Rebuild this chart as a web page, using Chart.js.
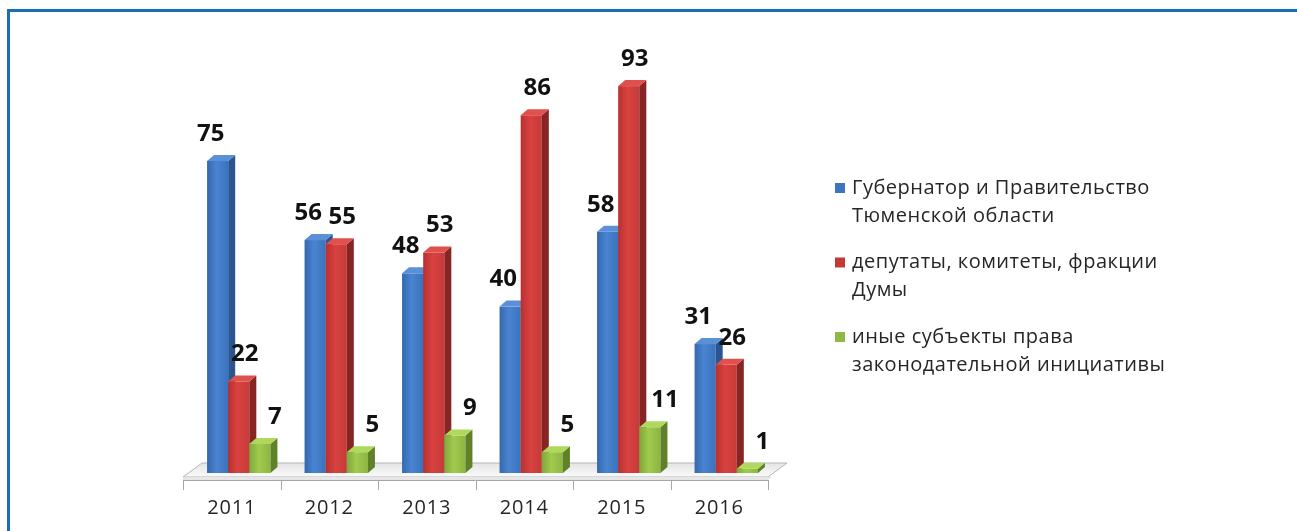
<!DOCTYPE html>
<html>
<head>
<meta charset="utf-8">
<script src="https://cdn.jsdelivr.net/npm/chart.js@4.4.1/dist/chart.umd.min.js"></script>
<style>
  html, body { margin: 0; padding: 0; background: #fff; overflow: hidden; }
  #wrap { position: relative; width: 1297px; height: 531px; }
  #frame {
    position: absolute; left: 7px; top: 9px; right: -10px; bottom: -10px;
    border: 3px solid #1b6fae; pointer-events: none;
  }
</style>
</head>
<body>
<div id="wrap">
  <canvas id="chart"></canvas>
  <div id="frame"></div>
</div>
<script>
// Data
const categories = ['2011', '2012', '2013', '2014', '2015', '2016'];
const governor = [75, 56, 48, 40, 58, 31];
const deputies = [22, 55, 53, 86, 93, 26];
const others = [7, 5, 9, 5, 11, 1];
const seriesNames = [
  ['Губернатор и Правительство', 'Тюменской области'],
  ['депутаты, комитеты, фракции', 'Думы'],
  ['иные субъекты права', 'законодательной инициативы']
];

const FONT = "'Open Sans', 'DejaVu Sans', sans-serif";

// face colours for each series: front gradient, side, top, legend swatch
const palette = [
  { front: ['#3468b0', '#4a84d0', '#3a72bd'], side: '#2a5590', top: '#5c90d6', key: '#3c74bd' },
  { front: ['#b8302e', '#d84240', '#c63a37'], side: '#862523', top: '#e0504c', key: '#c23a36' },
  { front: ['#7fa83a', '#a0cb4e', '#8cb542'], side: '#5f8228', top: '#b0d85c', key: '#8fba45' }
];

const BAR_DEPTH = { dx: 7, dy: 6 };   // how far each bar goes "into" the picture
const BAR_SHIFT = { dx: 7, dy: 7 };   // bars stand in the middle of the floor
const FLOOR = { dx: 19, dy: 14, lip: 3 };
const LABEL_NUDGE = [-7, 6, 15];      // label offset per series
const LABEL_RISE = 27;

/** Floor under the bars */
const floorPlugin = {
  id: 'floor3d',
  beforeDatasetsDraw(chart) {
    const { ctx, chartArea: a } = chart;
    const fy = a.bottom - FLOOR.lip;
    ctx.save();
    // top of the floor
    const g = ctx.createLinearGradient(0, fy - FLOOR.dy, 0, fy);
    g.addColorStop(0, '#e4e4e4');
    g.addColorStop(1, '#fbfbfb');
    ctx.fillStyle = g;
    ctx.beginPath();
    ctx.moveTo(a.left, fy);
    ctx.lineTo(a.right, fy);
    ctx.lineTo(a.right + FLOOR.dx, fy - FLOOR.dy);
    ctx.lineTo(a.left + FLOOR.dx, fy - FLOOR.dy);
    ctx.closePath();
    ctx.fill();
    ctx.strokeStyle = '#b5b5b5';
    ctx.lineWidth = 1;
    ctx.stroke();
    // front lip
    ctx.fillStyle = '#e6e6e6';
    ctx.beginPath();
    ctx.moveTo(a.left, fy);
    ctx.lineTo(a.right, fy);
    ctx.lineTo(a.right + FLOOR.dx * FLOOR.lip / FLOOR.dy, fy);
    ctx.lineTo(a.right, a.bottom);
    ctx.lineTo(a.left, a.bottom);
    ctx.closePath();
    ctx.fill();
    ctx.restore();
  }
};

/** Draw each bar as a box, category by category so neighbours overlap right */
const barsPlugin = {
  id: 'bars3d',
  afterDatasetsDraw(chart) {
    const { ctx } = chart;
    const metas = chart.data.datasets.map((_, i) => chart.getDatasetMeta(i));
    ctx.save();
    for (let c = 0; c < categories.length; c++) {
      metas.forEach((meta, s) => {
        const bar = meta.data[c];
        const p = bar.getProps(['x', 'y', 'base', 'width'], true);
        const x0 = p.x - p.width / 2 + BAR_SHIFT.dx;
        const x1 = x0 + p.width;
        const top = p.y - BAR_SHIFT.dy;
        const base = p.base - BAR_SHIFT.dy;
        const col = palette[s];
        const { dx, dy } = BAR_DEPTH;

        // front
        const g = ctx.createLinearGradient(x0, 0, x1, 0);
        g.addColorStop(0, col.front[0]);
        g.addColorStop(0.45, col.front[1]);
        g.addColorStop(1, col.front[2]);
        ctx.fillStyle = g;
        ctx.fillRect(x0, top, x1 - x0, base - top);

        // side
        ctx.fillStyle = col.side;
        ctx.beginPath();
        ctx.moveTo(x1, top);
        ctx.lineTo(x1 + dx, top - dy);
        ctx.lineTo(x1 + dx, base - dy);
        ctx.lineTo(x1, base);
        ctx.closePath();
        ctx.fill();

        // top
        ctx.fillStyle = col.top;
        ctx.beginPath();
        ctx.moveTo(x0, top);
        ctx.lineTo(x1, top);
        ctx.lineTo(x1 + dx, top - dy);
        ctx.lineTo(x0 + dx, top - dy);
        ctx.closePath();
        ctx.fill();
      });
    }

    // value labels
    ctx.font = 'bold 24px ' + FONT;
    ctx.fillStyle = '#111';
    ctx.textAlign = 'center';
    ctx.textBaseline = 'middle';
    metas.forEach((meta, s) => {
      meta.data.forEach((bar, c) => {
        const p = bar.getProps(['x', 'y'], true);
        const v = chart.data.datasets[s].data[c];
        ctx.fillText(String(v), p.x + BAR_SHIFT.dx + LABEL_NUDGE[s], p.y - BAR_SHIFT.dy - LABEL_RISE);
      });
    });
    ctx.restore();
  }
};

/** Category axis and legend */
const axisLegendPlugin = {
  id: 'axisLegend',
  afterDraw(chart) {
    const { ctx, chartArea: a } = chart;
    const xs = chart.scales.x;
    const step = xs.getPixelForValue(1) - xs.getPixelForValue(0);
    ctx.save();
    ctx.strokeStyle = '#a6a6a6';
    ctx.lineWidth = 1;
    ctx.beginPath();
    ctx.moveTo(a.left, a.bottom + 0.5);
    ctx.lineTo(a.right, a.bottom + 0.5);
    for (let i = 0; i <= categories.length; i++) {
      const tx = Math.round(xs.getPixelForValue(i) - step / 2) + 0.5;
      ctx.moveTo(tx, a.bottom);
      ctx.lineTo(tx, a.bottom + 10);
    }
    ctx.stroke();

    ctx.font = '20px ' + FONT;
    ctx.letterSpacing = '0.8px';
    ctx.fillStyle = '#262626';
    ctx.textAlign = 'center';
    ctx.textBaseline = 'middle';
    categories.forEach((cat, i) => {
      ctx.fillText(cat, xs.getPixelForValue(i), a.bottom + 28);
    });

    // legend
    const lx = 835, ty = 188, lineH = 28, groupH = 74.5;
    ctx.textAlign = 'left';
    ctx.font = '20px ' + FONT;
    ctx.letterSpacing = '0.5px';
    seriesNames.forEach((lines, s) => {
      const y = ty + s * groupH;
      ctx.fillStyle = palette[s].key;
      ctx.fillRect(lx, y - 5, 10, 10);
      ctx.fillStyle = '#262626';
      lines.forEach((t, k) => ctx.fillText(t, lx + 17, y + k * lineH));
    });
    ctx.restore();
  }
};

function initChart() {
  const el = document.getElementById('chart');
  new Chart(el, {
    type: 'bar',
    data: {
      labels: categories,
      datasets: [
        { label: seriesNames[0].join(' '), data: governor },
        { label: seriesNames[1].join(' '), data: deputies },
        { label: seriesNames[2].join(' '), data: others }
      ].map(d => Object.assign(d, {
        backgroundColor: 'rgba(0,0,0,0)',
        borderWidth: 0,
        categoryPercentage: 0.65,
        barPercentage: 1
      }))
    },
    options: {
      responsive: true,
      maintainAspectRatio: false,
      animation: false,
      layout: { padding: { left: 183, right: 529, top: 64, bottom: 51 } },
      plugins: {
        legend: { display: false },
        tooltip: { enabled: false }
      },
      scales: {
        x: { display: false, offset: true },
        y: { display: false, min: 0, max: 100 }
      }
    },
    plugins: [floorPlugin, barsPlugin, axisLegendPlugin]
  });
}

document.addEventListener('DOMContentLoaded', initChart);
</script>
</body>
</html>
